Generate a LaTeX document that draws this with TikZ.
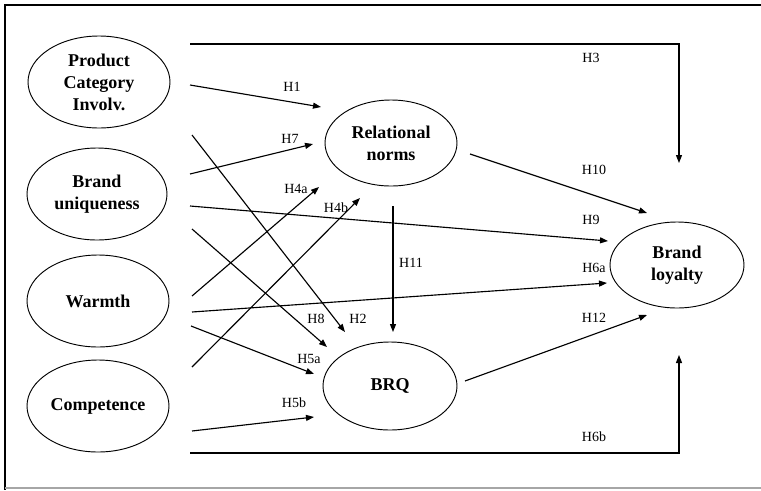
\documentclass[tikz,border=0pt]{standalone}
\usepackage{fontspec}
\setmainfont{Liberation Serif}
\usetikzlibrary{shapes.geometric, arrows.meta}

\begin{document}
\begin{tikzpicture}[
		x=0.75pt, y=-0.75pt,
		>={Triangle[length=6pt, width=4.5pt]},
		every path/.style={line width=0.85pt},
		var/.style={ellipse, draw, line width=0.7pt, inner sep=0pt, align=center,
			minimum width=106.5pt, minimum height=69pt,
			font=\bfseries\fontsize{13.5}{16.5}\selectfont},
		hyp/.style={inner sep=0pt, font=\fontsize{10.5}{12}\selectfont}
	]
  \useasboundingbox (0, 0) rectangle (761, 490);
  \draw [line width=1.6pt] (761, 5) -- (5, 5) -- (5, 490);
  \draw [gray!70, line width=1pt] (5, 488) -- (761, 488);

  \node (pc_inv) [var] at (99, 82) {Product\\Category\\Involv.};
  \node (b_uniq) [var, minimum width=105pt] at (97, 194) {Brand\\uniqueness};
  \node (warmth) [var] at (98, 301) {Warmth};
  \node (compet) [var] at (98, 406) {Competence};
  \node (rel_n) [var, minimum width=99pt, minimum height=64.5pt] at (391, 143) {Relational\\norms};
  \node (brq) [var, minimum width=100.5pt, minimum height=66pt] at (390, 386) {BRQ};
  \node (b_loy) [var, minimum width=100.5pt, minimum height=64.5pt] at (677, 265) {Brand\\loyalty};

  \coordinate (h3_s) at (190, 44);   \coordinate (h3_e) at (679, 163);
  \coordinate (h1_s) at (190, 85);   \coordinate (h1_e) at (321, 107);
  \coordinate (h7_s) at (190, 174);  \coordinate (h7_e) at (313, 144);
  \coordinate (h2_s) at (192, 135);  \coordinate (h2_e) at (345, 332);
  \coordinate (h9_s) at (190, 206);  \coordinate (h9_e) at (608, 241);
  \coordinate (h8_s) at (192, 229);  \coordinate (h8_e) at (327, 347);
  \coordinate (h4a_s) at (192, 296); \coordinate (h4a_e) at (319, 187);
  \coordinate (h4b_s) at (192, 367); \coordinate (h4b_e) at (360, 198);
  \coordinate (h6a_s) at (192, 312); \coordinate (h6a_e) at (607, 283);
  \coordinate (h5a_s) at (191, 326); \coordinate (h5a_e) at (314, 374);
  \coordinate (h5b_s) at (192, 431); \coordinate (h5b_e) at (314, 417);
  \coordinate (h6b_s) at (190, 453); \coordinate (h6b_e) at (679, 355);
  \coordinate (h10_s) at (470, 154); \coordinate (h10_e) at (647, 213);
  \coordinate (h11_s) at (393, 206); \coordinate (h11_e) at (393, 332);
  \coordinate (h12_s) at (465, 381); \coordinate (h12_e) at (647, 315);

  \draw [->] (h3_s) -| (h3_e);
  \draw [->] (h6b_s) -| (h6b_e);
  \draw (h1_s) edge [->] (h1_e);
  \draw (h7_s) edge [->] (h7_e);
  \draw (h2_s) edge [->] (h2_e);
  \draw (h9_s) edge [->] (h9_e);
  \draw (h8_s) edge [->] (h8_e);
  \draw (h4a_s) edge [->] (h4a_e);
  \draw (h4b_s) edge [->] (h4b_e);
  \draw (h6a_s) edge [->] (h6a_e);
  \draw (h5a_s) edge [->] (h5a_e);
  \draw (h5b_s) edge [->] (h5b_e);
  \draw (h10_s) edge [->] (h10_e);
  \draw (h11_s) edge [->] (h11_e);
  \draw (h12_s) edge [->] (h12_e);

  \node (l_h3) [hyp] at (591, 58) {H3};
  \node (l_h1) [hyp] at (292, 87) {H1};
  \node (l_h7) [hyp] at (290, 139) {H7};
  \node (l_h4a) [hyp] at (296, 189) {H4a};
  \node (l_h4b) [hyp] at (336, 208) {H4b};
  \node (l_h8) [hyp] at (316, 319) {H8};
  \node (l_h2) [hyp] at (358, 319) {H2};
  \node (l_h5a) [hyp] at (309, 359) {H5a};
  \node (l_h5b) [hyp] at (294, 403) {H5b};
  \node (l_h11) [hyp] at (411, 263) {H11};
  \node (l_h10) [hyp] at (594, 170) {H10};
  \node (l_h9) [hyp] at (591, 220) {H9};
  \node (l_h6a) [hyp] at (594, 268) {H6a};
  \node (l_h12) [hyp] at (594, 318) {H12};
  \node (l_h6b) [hyp] at (594, 437) {H6b};
\end{tikzpicture}
\end{document}
